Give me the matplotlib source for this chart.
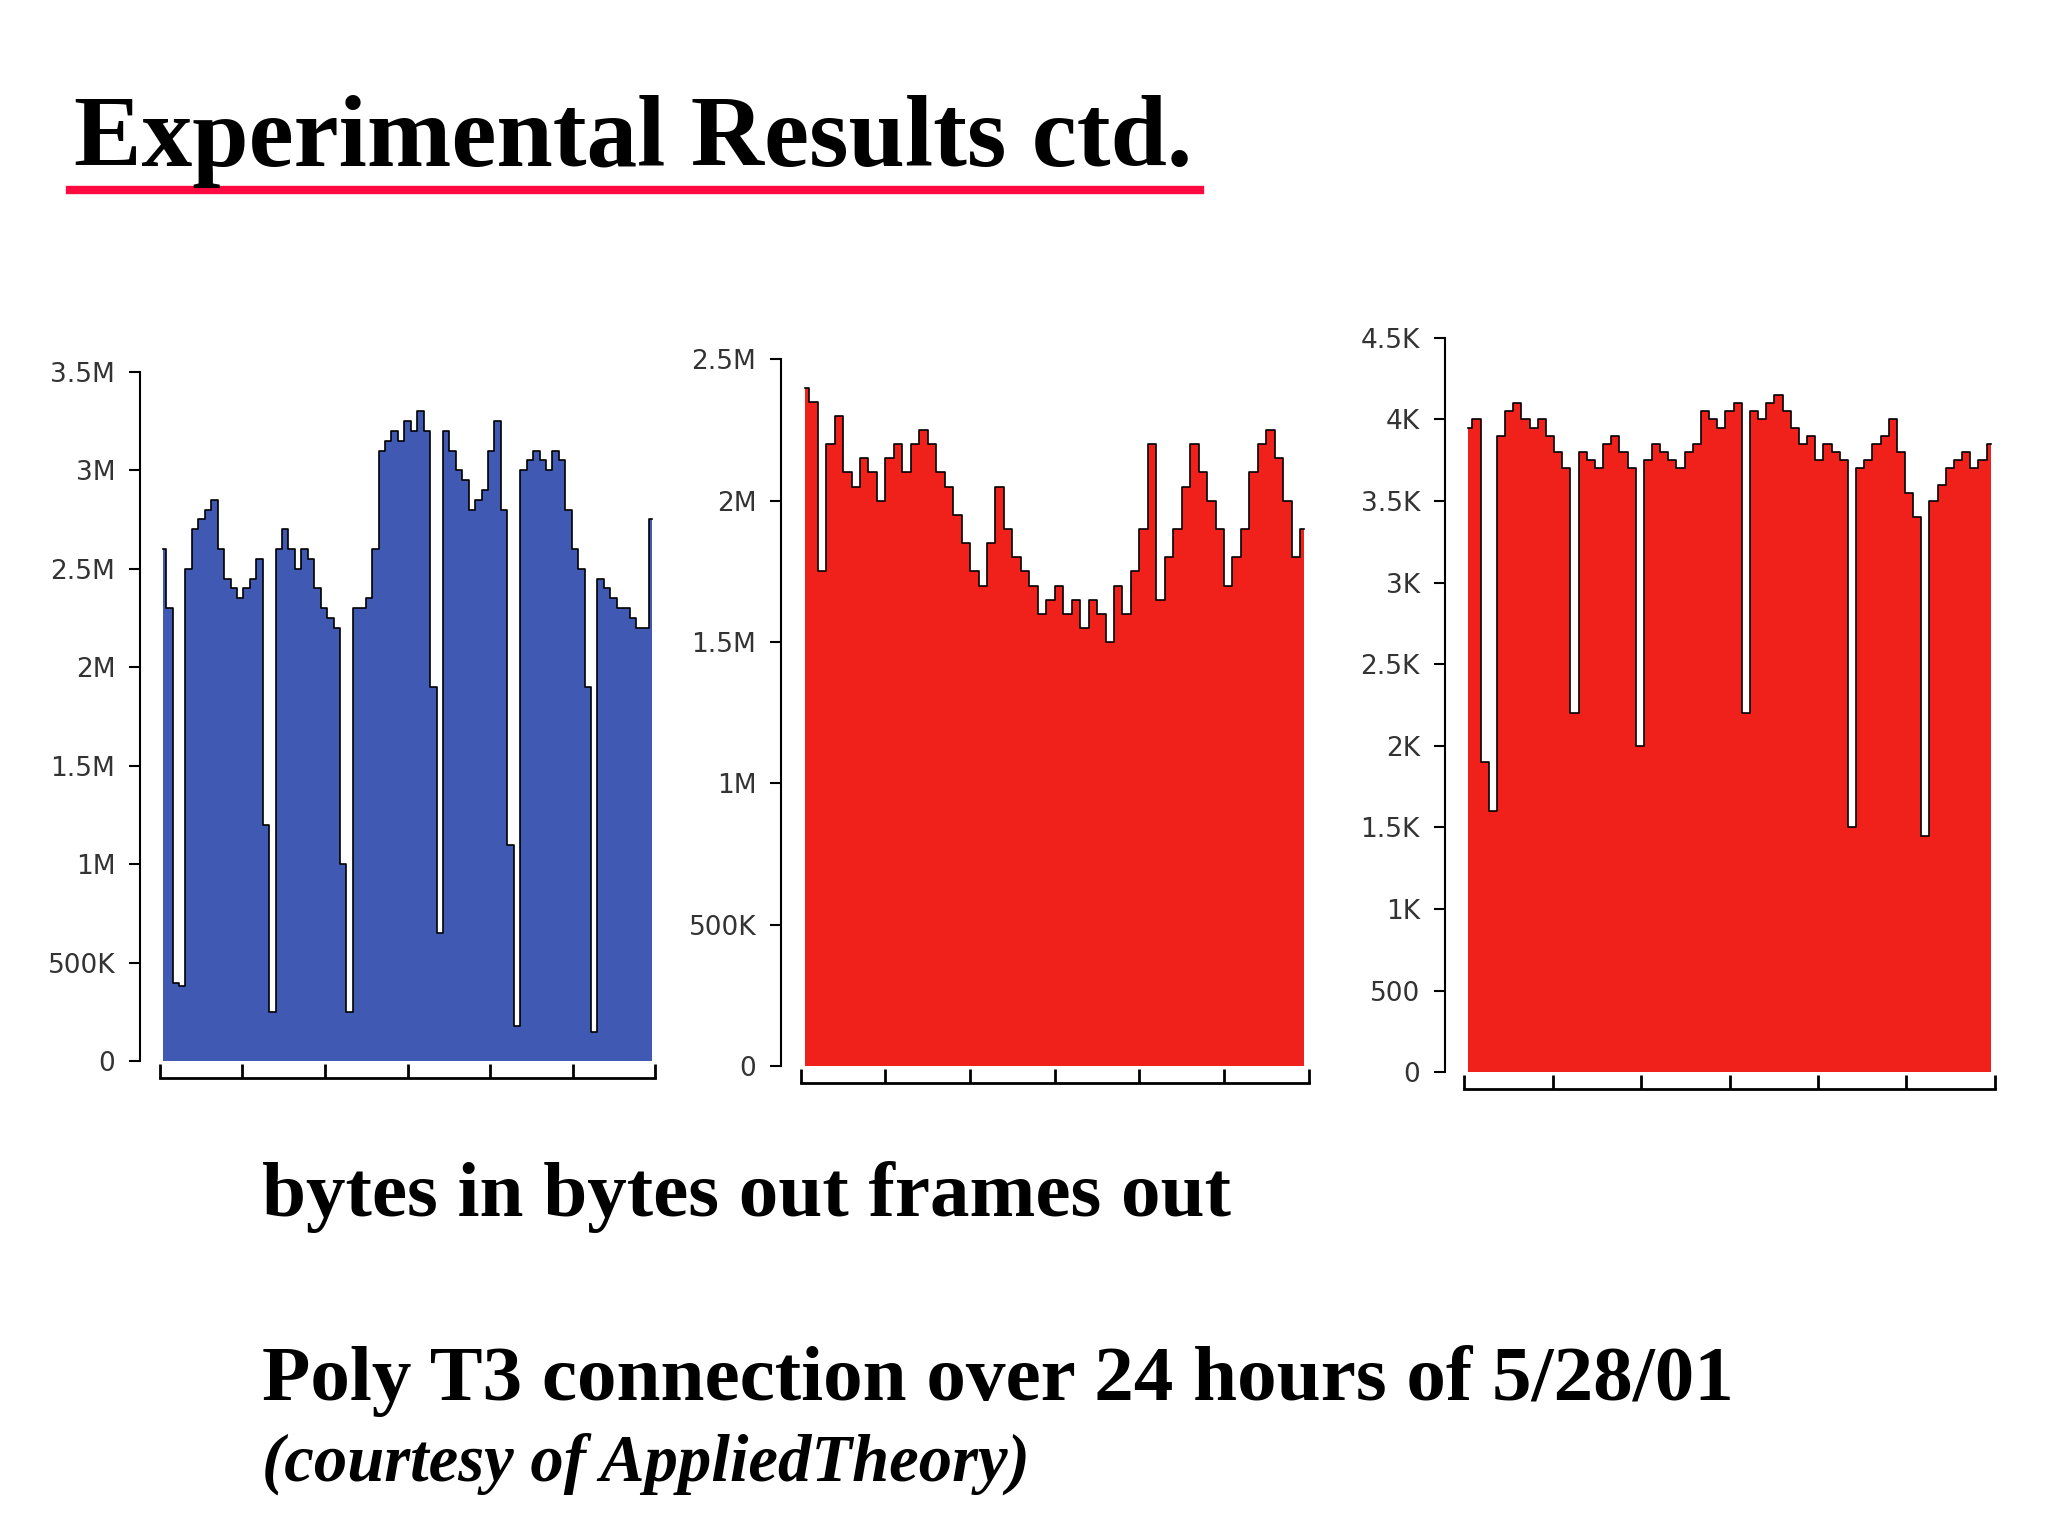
import matplotlib
matplotlib.use("Agg")
import matplotlib.pyplot as plt
import numpy as np

# bytes in (M)
bytes_in = [2.6, 2.3, 0.4, 0.38, 2.5, 2.7, 2.75, 2.8, 2.85, 2.6, 2.45, 2.4, 2.35, 2.4, 2.45, 2.55, 1.2, 0.25, 2.6,
            2.7, 2.6, 2.5, 2.6, 2.55, 2.4, 2.3, 2.25, 2.2, 1.0, 0.25, 2.3, 2.3, 2.35, 2.6, 3.1, 3.15, 3.2, 3.15,
            3.25, 3.2, 3.3, 3.2, 1.9, 0.65, 3.2, 3.1, 3.0, 2.95, 2.8, 2.85, 2.9, 3.1, 3.25, 2.8, 1.1, 0.18, 3.0,
            3.05, 3.1, 3.05, 3.0, 3.1, 3.05, 2.8, 2.6, 2.5, 1.9, 0.15, 2.45, 2.4, 2.35, 2.3, 2.3, 2.25, 2.2, 2.2, 2.75]
# bytes out (M)
bytes_out = [2.4, 2.35, 1.75, 2.2, 2.3, 2.1, 2.05, 2.15, 2.1, 2.0, 2.15, 2.2, 2.1, 2.2, 2.25, 2.2, 2.1, 2.05, 1.95,
             1.85, 1.75, 1.7, 1.85, 2.05, 1.9, 1.8, 1.75, 1.7, 1.6, 1.65, 1.7, 1.6, 1.65, 1.55, 1.65, 1.6, 1.5,
             1.7, 1.6, 1.75, 1.9, 2.2, 1.65, 1.8, 1.9, 2.05, 2.2, 2.1, 2.0, 1.9, 1.7, 1.8, 1.9, 2.1, 2.2, 2.25,
             2.15, 2.0, 1.8, 1.9]
# frames out (K)
frames_out = [3.95, 4.0, 1.9, 1.6, 3.9, 4.05, 4.1, 4.0, 3.95, 4.0, 3.9, 3.8, 3.7, 2.2, 3.8, 3.75, 3.7, 3.85, 3.9,
              3.8, 3.7, 2.0, 3.75, 3.85, 3.8, 3.75, 3.7, 3.8, 3.85, 4.05, 4.0, 3.95, 4.05, 4.1, 2.2, 4.05, 4.0,
              4.1, 4.15, 4.05, 3.95, 3.85, 3.9, 3.75, 3.85, 3.8, 3.75, 1.5, 3.7, 3.75, 3.85, 3.9, 4.0, 3.8, 3.55,
              3.4, 1.45, 3.5, 3.6, 3.7, 3.75, 3.8, 3.7, 3.75, 3.85]

blue_ticks = [0, 0.5, 1, 1.5, 2, 2.5, 3, 3.5]
blue_labels = ["0", "500K", "1M", "1.5M", "2M", "2.5M", "3M", "3.5M"]
out_ticks = [0, 0.5, 1, 1.5, 2, 2.5]
out_labels = ["0", "500K", "1M", "1.5M", "2M", "2.5M"]
fr_ticks = [0, 0.5, 1, 1.5, 2, 2.5, 3, 3.5, 4, 4.5]
fr_labels = ["0", "500", "1K", "1.5K", "2K", "2.5K", "3K", "3.5K", "4K", "4.5K"]

fig = plt.figure(figsize=(20.48, 15.36), dpi=100)

def panel(rect, data, color, ticks, labels, ymax):
    ax = fig.add_axes(rect)
    y = np.array(data)
    x = np.arange(len(y))
    ax.fill_between(x, 0, y, step="mid", color=color, lw=0)
    ax.step(x, y, where="mid", color="black", lw=1.2)
    ax.set_xlim(-0.5, len(y) - 0.5)
    ax.set_ylim(0, ymax)
    ax.set_yticks(ticks)
    ax.set_yticklabels(labels)
    ax.set_xticks(np.linspace(-0.5, len(y) - 0.5, 7))
    ax.set_xticklabels([])
    for s in ["top", "right"]:
        ax.spines[s].set_visible(False)
    ax.spines["left"].set_position(("outward", 14))
    ax.spines["bottom"].set_position(("outward", 12))
    ax.tick_params(axis="y", length=8, width=1.5, pad=10, labelsize=19, labelcolor="#333333")
    ax.tick_params(axis="x", length=10, width=2, direction="in")
    ax.spines["left"].set_linewidth(1.5)
    ax.spines["bottom"].set_linewidth(2)
    return ax

panel([0.078, 0.309, 0.242, 0.449], bytes_in, "#4059b3", blue_ticks, blue_labels, 3.5)
panel([0.391, 0.306, 0.248, 0.460], bytes_out, "#f0211a", out_ticks, out_labels, 2.5)
panel([0.715, 0.302, 0.259, 0.478], frames_out, "#f0211a", fr_ticks, fr_labels, 4.5)

fig.text(0.036, 0.908, "Experimental Results ctd.", family="Liberation Serif",
         weight="bold", fontsize=73, va="center")
fig.add_artist(plt.Line2D([0.034, 0.586], [0.876, 0.876], color="#ff0a40", lw=6))
fig.text(0.128, 0.221, "bytes in bytes out frames out", family="Liberation Serif",
         weight="bold", fontsize=57, va="center")
fig.text(0.128, 0.101, "Poly T3 connection over 24 hours of 5/28/01", family="Liberation Serif",
         weight="bold", fontsize=57, va="center")
fig.text(0.128, 0.047, "(courtesy of AppliedTheory)", family="Liberation Serif",
         weight="bold", style="italic", fontsize=48, va="center")

fig.savefig("out.png", dpi=100)
